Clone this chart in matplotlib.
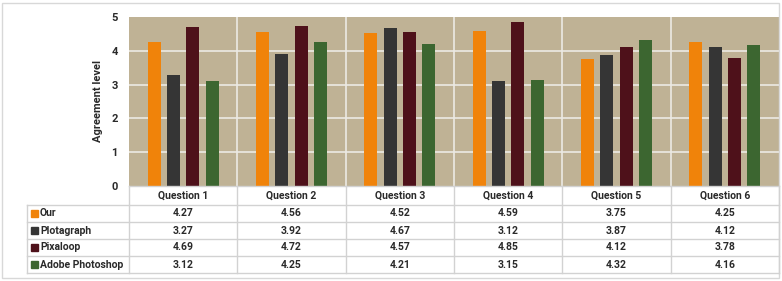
import matplotlib
matplotlib.use("Agg")
import matplotlib.pyplot as plt
from matplotlib.patches import Rectangle
from matplotlib.lines import Line2D
import numpy as np

categories = ["Question 1", "Question 2", "Question 3", "Question 4", "Question 5", "Question 6"]
series_names = ["Our", "Plotagraph", "Pixaloop", "Adobe Photoshop"]
our = [4.27, 4.56, 4.52, 4.59, 3.75, 4.25]
plotagraph = [3.27, 3.92, 4.67, 3.12, 3.87, 4.12]
pixaloop = [4.69, 4.72, 4.57, 4.85, 4.12, 3.78]
photoshop = [3.12, 4.25, 4.21, 3.15, 4.32, 4.16]
series = [our, plotagraph, pixaloop, photoshop]
colors = ["#F0830A", "#353535", "#4E111A", "#3C6630"]
yticks = [0, 1, 2, 3, 4, 5]

plt.rcParams['font.family'] = ['Roboto', 'DejaVu Sans']

W, H = 782, 281
fig = plt.figure(figsize=(W / 100, H / 100), dpi=100)

def fx(px):
    return px / W

def fy(py):
    return 1 - py / H

left, right, top, bottom = 129, 779, 17, 186
ax = fig.add_axes([fx(left), fy(bottom), fx(right) - fx(left), fy(top) - fy(bottom)])
ax.set_facecolor("#BFB295")
n = len(categories)
x = np.arange(n)
spacing = 0.178
width = 0.12
for i, (vals, c) in enumerate(zip(series, colors)):
    ax.bar(x + (i - 1.5) * spacing, vals, width=width, color=c, zorder=3)
ax.set_xlim(-0.5, n - 0.5)
ax.set_ylim(0, 5)
ax.set_yticks(yticks)
ax.set_yticklabels([str(t) for t in yticks], fontsize=8, fontweight="bold", color="#2A2A2A")
ax.tick_params(axis="y", length=0, pad=8)
ax.set_xticks([])
for t in yticks[1:-1]:
    ax.axhline(t, color="#ECEAE4", lw=1.2, zorder=1)
for b in np.arange(0.5, n - 0.5, 1):
    ax.axvline(b, color="#ECEAE4", lw=1.2, zorder=1)
for s in ax.spines.values():
    s.set_visible(False)
ax.set_ylabel("Agreement level", fontsize=8, fontweight="bold", color="#2A2A2A", labelpad=6)

# table
grid_c = "#D2D2D2"
colw = (right - left) / n
row_tops = [186, 205, 222, 239, 256, 273]
lab_left = 27

def hline(x0, x1, y):
    fig.add_artist(Line2D([fx(x0), fx(x1)], [fy(y), fy(y)], color=grid_c, lw=1))

def vline(xp, y0, y1):
    fig.add_artist(Line2D([fx(xp), fx(xp)], [fy(y0), fy(y1)], color=grid_c, lw=1))

hline(left, right, row_tops[0])
for y in row_tops[1:]:
    hline(lab_left, right, y)
vline(lab_left, row_tops[1], row_tops[-1])
for k in range(n + 1):
    vline(left + k * colw, row_tops[0], row_tops[-1])

for k, cat in enumerate(categories):
    fig.text(fx(left + (k + 0.5) * colw), fy((row_tops[0] + row_tops[1]) / 2), cat,
             ha="center", va="center", fontsize=7.5, fontweight="bold", color="#2A2A2A")
for r, (name, vals, c) in enumerate(zip(series_names, series, colors)):
    yc = (row_tops[r + 1] + row_tops[r + 2]) / 2
    fig.add_artist(Rectangle((fx(31), fy(yc + 3.2)), fx(6.5), 6.5 / H, color=c,
                             transform=fig.transFigure))
    fig.text(fx(40), fy(yc), name, ha="left", va="center", fontsize=7.5,
             fontweight="bold", color="#2A2A2A")
    for k, v in enumerate(vals):
        fig.text(fx(left + (k + 0.5) * colw), fy(yc), f"{v:.2f}", ha="center", va="center",
                 fontsize=7.5, fontweight="bold", color="#2A2A2A")

# outer border
fig.add_artist(Rectangle((fx(2), fy(278)), fx(777), 275 / H, fill=False,
                         edgecolor="#D8D8D8", lw=1, transform=fig.transFigure))

fig.savefig("out.png", dpi=100)
